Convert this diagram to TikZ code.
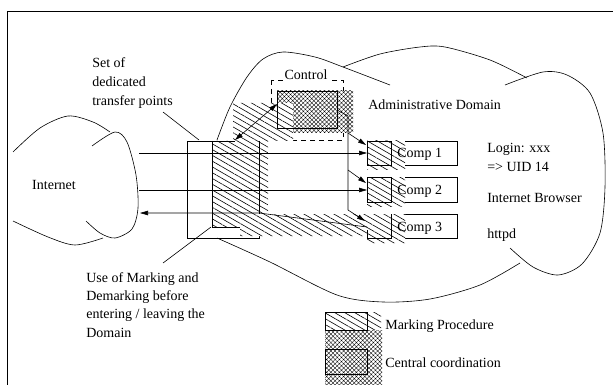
\documentclass[tikz,border=0pt]{standalone}
\usepackage{fontspec}
\setmainfont{Liberation Serif}
\usetikzlibrary{arrows.meta,patterns.meta}
\begin{document}
\begin{tikzpicture}[x=1pt,y=-1pt,line width=0.6pt,
  txt/.style={font=\fontsize{14}{19}\selectfont, inner sep=0pt},
  hatchfill/.style={preaction={fill=white}, pattern={Lines[angle=-30,distance=5pt,line width=0.6pt]}},
  crossfill/.style={preaction={fill=white}, pattern={Hatch[angle=45,distance=3pt,line width=0.35pt]}},
  arr/.style={-{Triangle[length=8pt,width=4.5pt]}},
  darr/.style={{Triangle[length=8pt,width=4.5pt]}-{Triangle[length=8pt,width=4.5pt]}},
  dashbox/.style={dash pattern=on 5pt off 4pt}]
\useasboundingbox (0,0) rectangle (613,385);
% frame
\draw[line width=0.8pt] (7,392) -- (7,11) -- (620,11);

% Internet cloud
\draw plot[smooth] coordinates {(13,152) (40,128) (68,116) (93,122) (110,132)};
\draw plot[smooth] coordinates {(92,146) (115,132) (127,142) (136,175) (138,208) (132,229) (115,238) (100,233) (86,221)};
\draw plot[smooth] coordinates {(13,221) (48,237) (75,245) (103,238)};

% Administrative domain cloud
\draw plot[smooth] coordinates {(217,140) (230,107) (247,77) (263,59) (283,52) (315,57) (343,67) (390,85)};
\draw plot[smooth] coordinates {(343,67) (380,54) (420,47) (445,47) (490,60) (527,78)};
\draw plot[smooth] coordinates {(505,85) (543,72) (567,75) (590,93) (603,133) (605,187) (600,233) (582,264) (558,275) (533,267) (510,248)};
\draw plot[smooth] coordinates {(217,238) (270,262) (337,295) (383,302) (430,299) (480,285) (520,263)};

% dashed control frame, transfer box, component label boxes (under the hatching)
\draw[dashbox] (271,80) rectangle (343,140);
\draw (187,141) rectangle (259,238);
\draw (391,141) rectangle (457,165);
\draw (391,177) rectangle (457,202);
\draw (391,214) rectangle (457,238);

% central coordination (control)
\path[crossfill] (277,91) rectangle (353,133);
% marking procedure areas
\path[hatchfill] (233,103) -- (293,103) -- (293,141) -- (268,141) -- (268,214) -- (405,214)
  -- (405,243) -- (367,243) -- (367,236) -- (240,236) -- (240,227) -- (212,227) -- (212,141)
  -- (233,141) -- cycle;
\path[hatchfill] (367,141) rectangle (405,169);
\path[hatchfill] (367,177) rectangle (405,206);

% boxes on top
\draw (277,91) rectangle (337,128);
\draw (367,141) rectangle (391,165);
\draw (367,177) rectangle (391,202);
\draw (367,230) -- (367,238) -- (391,238) -- (391,214);
\draw (187,141) -- (235,141);
\draw (212,141) -- (212,227) -- (240,227);
\draw (259,141) -- (259,214);

% named points
\coordinate (in1) at (139,153);
\coordinate (in2) at (139,190);
\coordinate (out3) at (140,213);
\coordinate (c1) at (367,153);
\coordinate (c2) at (367,190);
\coordinate (c3) at (367,227);
\coordinate (tp) at (259,213);
\coordinate (ctrlR) at (337,110);
\coordinate (busTop) at (348,116);
\coordinate (busBot) at (348,210);
\coordinate (bus1) at (348,133);
\coordinate (bus2) at (348,170);
\coordinate (c1n) at (366,145);
\coordinate (c2n) at (366,183);
\coordinate (c3n) at (365,221);
\coordinate (tpTop) at (235,140);
\coordinate (ctrlL) at (277,104);
\coordinate (setEnd) at (163,112);
\coordinate (setTip) at (199,140);
\coordinate (useEnd) at (163,263);
\coordinate (useTip) at (211,227);

% connectors
\draw[arr] (in1) -- (c1);
\draw[arr] (in2) -- (c2);
\draw[arr] (c3) -- (tp) -- (out3);
\draw[arr] (ctrlR) -- (busTop) -- (busBot) -- (c3n);
\draw[arr] (bus1) -- (c1n);
\draw[arr] (bus2) -- (c2n);
\draw[darr] (tpTop) -- (ctrlL);
\draw (setEnd) -- (setTip);
\draw (useEnd) -- (useTip);

% legend
\path[hatchfill] (325,312) rectangle (381,331);
\path[crossfill] (325,330) rectangle (382,385);
\draw (325,312) rectangle (367,330);
\draw (325,349) rectangle (367,374);

% texts
\node[txt, anchor=base] (internet) at (54,189.5) {Internet};
\node[txt, anchor=north west, align=left] (setof) at (92,57) {Set of\\dedicated\\transfer points};
\node[txt, anchor=north west, align=left, font=\fontsize{14}{18.3}\selectfont] (useof) at (86,272) {Use of Marking and\\Demarking before\\entering / leaving the\\Domain};
\node[txt, anchor=base, fill=white, inner sep=1.5pt] (control) at (306,79.5) {Control};
\node[txt, anchor=base west] (admin) at (368,110) {Administrative Domain};
\node[txt, anchor=base west] (comp1) at (397,157.5) {Comp 1};
\node[txt, anchor=base west] (comp2) at (397,194.5) {Comp 2};
\node[txt, anchor=base west] (comp3) at (397,231) {Comp 3};
\node[txt, anchor=north west, align=left] (login) at (487,143) {Login: xxx\\=> UID 14};
\node[txt, anchor=base west] (browser) at (487,202.5) {Internet Browser};
\node[txt, anchor=base west] (httpd) at (487,238.5) {httpd};
\node[txt, anchor=base west] (legmark) at (385,329) {Marking Procedure};
\node[txt, anchor=base west] (legcent) at (385,367) {Central coordination};
\end{tikzpicture}
\end{document}
